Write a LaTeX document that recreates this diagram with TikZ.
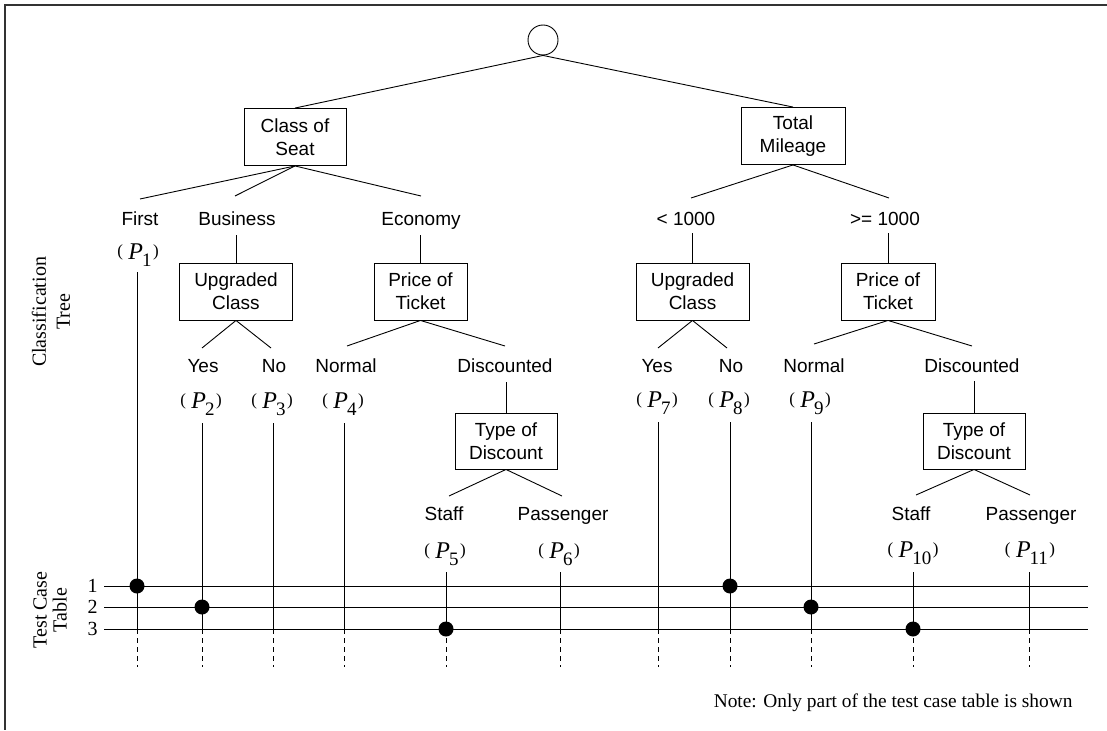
\documentclass[tikz,border=0pt]{standalone}
\usepackage{fontspec}
\setmainfont{Liberation Serif}
\setsansfont{Liberation Sans}
\newcommand{\plab}[1]{{\fontsize{17}{17}\selectfont\raisebox{3pt}{(}}\hspace{5.5pt}{\fontsize{24}{24}\selectfont\textit{P}}\hspace{-1pt}\raisebox{-7pt}{\fontsize{19}{19}\selectfont #1}\hspace{1.5pt}{\fontsize{17}{17}\selectfont\raisebox{3pt}{)}}}
\tikzset{
  cbox/.style={draw, line width=0.9pt, font=\sffamily\fontsize{19}{23}\selectfont, align=center, inner sep=0pt, minimum height=57pt},
  lab/.style={font=\sffamily\fontsize{19}{23}\selectfont, inner sep=0pt, anchor=base},
  plb/.style={font=\rmfamily, inner sep=0pt, anchor=base},
  hit/.style={circle, fill=black, draw=none, inner sep=0pt, minimum size=15pt},
  dsh/.style={dash pattern=on 5pt off 4pt},
  sideb/.style={font=\rmfamily\fontsize{20}{24}\selectfont, align=center, rotate=90, inner sep=0pt},
  rnum/.style={font=\rmfamily\fontsize{20}{24}\selectfont, anchor=east, inner sep=0pt},
}
\begin{document}
\begin{tikzpicture}[x=1pt, y=-1pt, line width=0.9pt]
\useasboundingbox (0,0) rectangle (1107,730);
% frame
\draw[line width=1.2pt, black!80] (1107,5) -- (5,5) -- (5,730);

% root and boxes
\node[circle, draw, minimum size=30pt, inner sep=0pt] (root) at (543,40) {};
\node[cbox, minimum width=102pt] (bSeat) at (295,137) {Class of\\Seat};
\node[cbox, minimum width=104pt] (bMile) at (793,136) {Total\\Mileage};
\node[cbox, minimum width=113pt] (bUpgL) at (236,291.5) {Upgraded\\Class};
\node[cbox, minimum width=93pt] (bPriL) at (420.5,291.5) {Price of\\Ticket};
\node[cbox, minimum width=102pt, minimum height=56pt] (bTypL) at (506,441) {Type of\\Discount};
\node[cbox, minimum width=113pt] (bUpgR) at (692.5,291.5) {Upgraded\\Class};
\node[cbox, minimum width=94pt] (bPriR) at (888,291.5) {Price of\\Ticket};
\node[cbox, minimum width=102pt, minimum height=56pt] (bTypR) at (974,441) {Type of\\Discount};

% class labels
\node[lab] (lFirst) at (140,225) {First};
\node[lab] (lBus) at (237,225) {Business};
\node[lab] (lEco) at (421,225) {Economy};
\node[lab] (lLt) at (686,225) {< 1000};
\node[lab] (lGe) at (885,225) {>= 1000};
\node[lab] (lYesL) at (203,372) {Yes};
\node[lab] (lNoL) at (274,372) {No};
\node[lab] (lNorL) at (346,372) {Normal};
\node[lab] (lDisL) at (505,372) {Discounted};
\node[lab] (lYesR) at (657,372) {Yes};
\node[lab] (lNoR) at (731,372) {No};
\node[lab] (lNorR) at (814,372) {Normal};
\node[lab] (lDisR) at (972,372) {Discounted};
\node[lab] (lStL) at (444,520) {Staff};
\node[lab] (lPaL) at (563,520) {Passenger};
\node[lab] (lStR) at (911,520) {Staff};
\node[lab] (lPaR) at (1031,520) {Passenger};

% P labels
\node[plb] (p1) at (138,259) {\plab{1}};
\node[plb] (p2) at (201,408) {\plab{2}};
\node[plb] (p3) at (272,408) {\plab{3}};
\node[plb] (p4) at (343,408) {\plab{4}};
\node[plb] (p5) at (445,558) {\plab{5}};
\node[plb] (p6) at (559,558) {\plab{6}};
\node[plb] (p7) at (657,407) {\plab{7}};
\node[plb] (p8) at (729,407) {\plab{8}};
\node[plb] (p9) at (810,407) {\plab{9}};
\node[plb] (p10) at (913,557) {\plab{10}};
\node[plb] (p11) at (1030,557) {\plab{11}};

% free ends of tree connectors
\coordinate (eFirst) at (140,199);
\coordinate (eBus) at (235,196);
\coordinate (eEco) at (421,196);
\coordinate (eLt) at (691,198);
\coordinate (eGe) at (889,198);
\coordinate (vBus) at (236,235);
\coordinate (vEco) at (420.5,235);
\coordinate (vLt) at (692.5,233);
\coordinate (vGe) at (888,233);
\coordinate (eYesL) at (202,348);
\coordinate (eNoL) at (271,348);
\coordinate (eNorL) at (347,346);
\coordinate (eDisL) at (505,346);
\coordinate (eYesR) at (658,348);
\coordinate (eNoR) at (727,348);
\coordinate (eNorR) at (814,344);
\coordinate (eDisR) at (972,346);
\coordinate (vDisL) at (506,382);
\coordinate (vDisR) at (974,381);
\coordinate (eStL) at (449,496);
\coordinate (ePaL) at (562,496);
\coordinate (eStR) at (916,495);
\coordinate (ePaR) at (1030,495);

% tree connectors
\draw (root.south) -- (bSeat.north);
\draw (root.south) -- (bMile.north);
\draw (bSeat.south) -- (eFirst);
\draw (bSeat.south) -- (eBus);
\draw (bSeat.south) -- (eEco);
\draw (bMile.south) -- (eLt);
\draw (bMile.south) -- (eGe);
\draw (vBus) -- (bUpgL.north);
\draw (vEco) -- (bPriL.north);
\draw (vLt) -- (bUpgR.north);
\draw (vGe) -- (bPriR.north);
\draw (bUpgL.south) -- (eYesL);
\draw (bUpgL.south) -- (eNoL);
\draw (bPriL.south) -- (eNorL);
\draw (bPriL.south) -- (eDisL);
\draw (bUpgR.south) -- (eYesR);
\draw (bUpgR.south) -- (eNoR);
\draw (bPriR.south) -- (eNorR);
\draw (bPriR.south) -- (eDisR);
\draw (vDisL) -- (bTypL.north);
\draw (vDisR) -- (bTypR.north);
\draw (bTypL.south) -- (eStL);
\draw (bTypL.south) -- (ePaL);
\draw (bTypR.south) -- (eStR);
\draw (bTypR.south) -- (ePaR);

% side labels
\node[sideb] (sTree) at (51,312) {Classification\\Tree};
\node[sideb, font=\rmfamily\fontsize{20}{20}\selectfont] (sTable) at (50,610) {Test Case\\Table};

% test case table rows
\coordinate (r1a) at (104,586); \coordinate (r1b) at (1088,586);
\coordinate (r2a) at (104,607); \coordinate (r2b) at (1088,607);
\coordinate (r3a) at (104,629); \coordinate (r3b) at (1088,629);
\coordinate (dend) at (0,667);
\draw (r1a) -- (r1b);
\draw (r2a) -- (r2b);
\draw (r3a) -- (r3b);
\node[rnum] (n1) at (98,586) {1};
\node[rnum] (n2) at (98,607) {2};
\node[rnum] (n3) at (98,629) {3};

% verticals from classes
\coordinate (t1) at (137,272);
\coordinate (t2) at (202,423);
\coordinate (t3) at (273,423);
\coordinate (t4) at (344,423);
\coordinate (t5) at (446,572);
\coordinate (t6) at (560,572);
\coordinate (t7) at (658,422);
\coordinate (t8) at (730,422);
\coordinate (t9) at (811,422);
\coordinate (t10) at (913,572);
\coordinate (t11) at (1029,572);
\foreach \t in {t1,t2,t3,t4,t5,t6,t7,t8,t9,t10,t11}{
  \draw (\t) -- (\t |- r3a);
  \draw[dsh] (\t |- r3a) -- (\t |- dend);
}

% selections
\node[hit] (h1) at (t1 |- r1a) {};
\node[hit] (h2) at (t2 |- r2a) {};
\node[hit] (h3) at (t5 |- r3a) {};
\node[hit] (h4) at (t8 |- r1a) {};
\node[hit] (h5) at (t9 |- r2a) {};
\node[hit] (h6) at (t10 |- r3a) {};

% note
\node[font=\rmfamily\fontsize{19.4}{22}\selectfont, anchor=base east, inner sep=0pt] (note) at (1073,707) {Note: Only part of the test case table is shown};
\end{tikzpicture}
\end{document}
